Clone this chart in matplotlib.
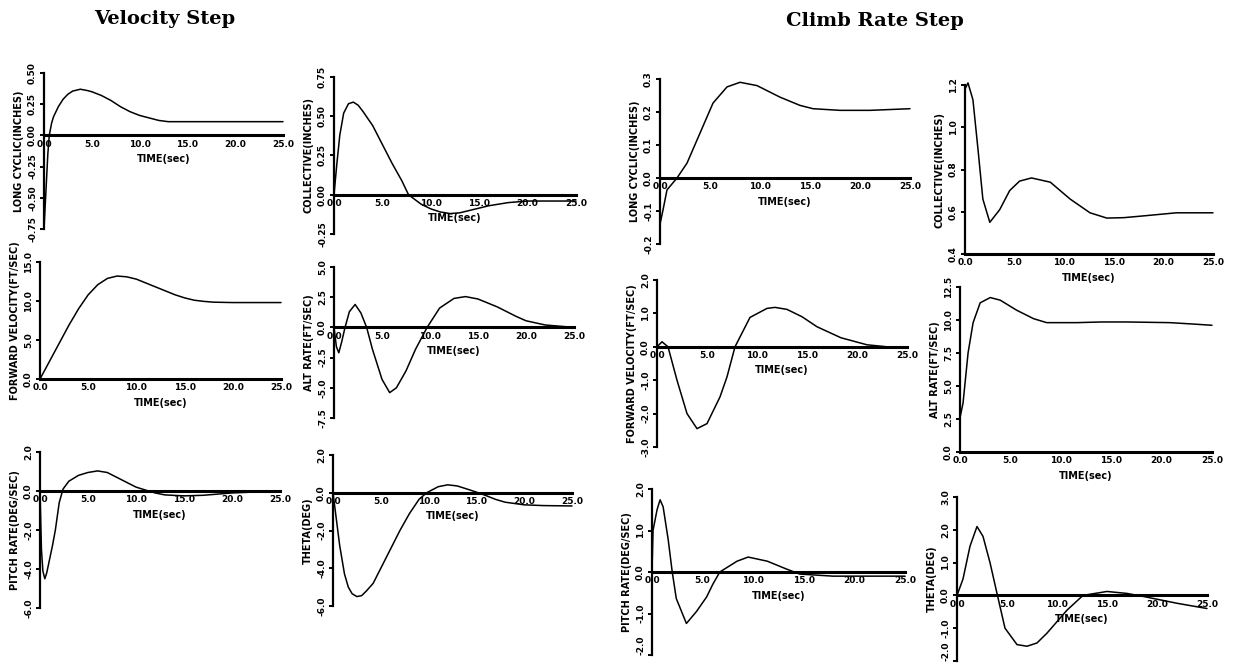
import matplotlib
matplotlib.use("Agg")
import matplotlib.pyplot as plt

# ---------------- data ----------------
titles = ["Velocity Step", "Climb Rate Step"]
time_ticks = [0, 5, 10, 15, 20, 25]
time_tick_labels = ["0.0", "5.0", "10.0", "15.0", "20.0", "25.0"]
x_label = "TIME(sec)"

# Velocity step
v_lcyc_t = [0, 0.2, 0.4, 0.55, 0.8, 1.0, 1.5, 2.0, 2.5, 3.0, 3.8, 4.5, 5, 6, 7, 8, 9, 10, 11, 12, 13, 15, 20, 25]
v_lcyc_y = [-0.75, -0.45, -0.15, 0.0, 0.10, 0.15, 0.23, 0.29, 0.33, 0.355, 0.37, 0.36, 0.35, 0.32, 0.28, 0.23,
            0.19, 0.16, 0.14, 0.12, 0.11, 0.11, 0.11, 0.11]

v_coll_t = [0, 0.3, 0.6, 1.0, 1.5, 2.0, 2.5, 3, 4, 5, 6, 7, 7.7, 9, 10, 11, 12, 13, 14, 15, 16, 18, 20, 22, 25]
v_coll_y = [0, 0.2, 0.38, 0.52, 0.58, 0.59, 0.57, 0.53, 0.44, 0.32, 0.20, 0.09, 0.0, -0.06, -0.09, -0.11, -0.12,
            -0.115, -0.10, -0.085, -0.07, -0.05, -0.04, -0.04, -0.04]

v_fvel_t = [0, 1, 2, 3, 4, 5, 6, 7, 8, 9, 10, 11, 12, 13, 14, 15, 16, 17, 18, 20, 22, 25]
v_fvel_y = [0, 2.3, 4.6, 6.9, 9.0, 10.8, 12.1, 12.9, 13.2, 13.1, 12.8, 12.3, 11.8, 11.3, 10.8, 10.4, 10.1, 9.95,
            9.85, 9.8, 9.8, 9.8]

v_alt_t = [0, 0.25, 0.5, 0.8, 1.15, 1.6, 2.2, 2.8, 3.4, 4.0, 5.0, 5.8, 6.5, 7.5, 8.5, 9.7, 11, 12.5, 13.7, 15, 17,
           19, 20, 22, 25]
v_alt_y = [0, -1.6, -2.1, -1.2, 0, 1.3, 1.9, 1.2, 0, -1.8, -4.3, -5.4, -5.0, -3.6, -1.8, 0, 1.6, 2.4, 2.55, 2.35,
           1.7, 0.9, 0.55, 0.2, 0.0]

v_prate_t = [0, 0.15, 0.3, 0.5, 0.7, 1.0, 1.3, 1.6, 2.0, 2.4, 3.0, 4.0, 5.0, 6.0, 7.0, 8.0, 9.0, 10, 11.3, 12, 13,
             15, 17, 20, 25]
v_prate_y = [0, -3.0, -4.1, -4.5, -4.2, -3.5, -2.8, -2.0, -0.6, 0.1, 0.5, 0.8, 0.95, 1.03, 0.95, 0.7, 0.45, 0.2,
             0, -0.1, -0.2, -0.25, -0.22, -0.1, 0]

v_theta_t = [0, 0.3, 0.7, 1.2, 1.6, 2.0, 2.5, 3.0, 3.5, 4.2, 5.0, 6.0, 7.0, 8.0, 9.0, 9.8, 11, 12, 13, 14, 15.2,
             16, 17, 18, 20, 22, 25]
v_theta_y = [0, -1.2, -2.8, -4.3, -5.0, -5.35, -5.5, -5.45, -5.2, -4.8, -4.0, -3.0, -2.0, -1.1, -0.35, 0, 0.32,
             0.42, 0.36, 0.2, 0, -0.15, -0.35, -0.5, -0.64, -0.68, -0.7]

# Climb rate step
c_lcyc_t = [0, 0.3, 0.7, 1.7, 2.7, 4.0, 5.3, 6.7, 8.0, 9.7, 12, 14, 15.3, 18, 21, 25]
c_lcyc_y = [-0.14, -0.097, -0.036, 0, 0.045, 0.136, 0.227, 0.276, 0.29, 0.28, 0.245, 0.22, 0.21, 0.205, 0.205, 0.21]

c_coll_t = [0, 0.3, 0.8, 1.3, 1.8, 2.5, 3.5, 4.5, 5.5, 6.7, 8.6, 10.6, 12.6, 14.3, 16, 17.9, 21.3, 25]
c_coll_y = [1.18, 1.21, 1.13, 0.9, 0.66, 0.55, 0.61, 0.70, 0.745, 0.76, 0.74, 0.66, 0.595, 0.57, 0.572, 0.58,
            0.595, 0.595]

c_fvel_t = [0, 0.5, 1.1, 2.0, 3.0, 4.0, 5.0, 6.3, 7.0, 7.8, 9.3, 11, 11.8, 13, 14.5, 16, 18.4, 21, 23, 25]
c_fvel_y = [0, 0.15, 0, -1.0, -2.0, -2.45, -2.3, -1.5, -0.9, 0, 0.88, 1.15, 1.18, 1.12, 0.9, 0.6, 0.27, 0.06, 0.0,
            0.0]

c_alt_t = [0, 0.3, 0.8, 1.3, 2.0, 3.0, 4.0, 5.6, 7.3, 8.6, 11.6, 14, 16.6, 20.8, 23, 25]
c_alt_y = [2.6, 3.7, 7.5, 9.8, 11.3, 11.7, 11.5, 10.75, 10.1, 9.8, 9.8, 9.85, 9.85, 9.8, 9.7, 9.6]

c_prate_t = [0, 0.1, 0.5, 0.8, 1.1, 1.6, 2.0, 2.4, 3.4, 4.4, 5.4, 6.0, 6.7, 8.4, 9.5, 11.4, 13.3, 14.6, 17.9, 25]
c_prate_y = [0, 1.0, 1.5, 1.74, 1.57, 0.78, 0, -0.64, -1.24, -0.95, -0.6, -0.3, 0, 0.26, 0.36, 0.26, 0.07, -0.05,
             -0.1, -0.1]

c_theta_t = [0, 0.6, 1.3, 2.0, 2.6, 3.3, 4.0, 4.8, 6.0, 7.0, 8.0, 9.0, 10, 11, 12.6, 15, 17, 18.6, 22, 25]
c_theta_y = [0, 0.5, 1.5, 2.1, 1.8, 1.0, 0.06, -1.0, -1.5, -1.55, -1.45, -1.15, -0.8, -0.45, 0, 0.12, 0.06, -0.03,
             -0.24, -0.4]

# y-axis labels, ticks and tick texts
y_labels = ["LONG CYCLIC(INCHES)", "COLLECTIVE(INCHES)", "FORWARD VELOCITY(FT/SEC)", "ALT RATE(FT/SEC)",
            "PITCH RATE(DEG/SEC)", "THETA(DEG)"]
yt_v_lcyc = [-0.75, -0.5, -0.25, 0, 0.25, 0.5]
yl_v_lcyc = ["-0.75", "-0.50", "-0.25", "0.00", "0.25", "0.50"]
yt_v_coll = [-0.25, 0, 0.25, 0.5, 0.75]
yl_v_coll = ["-0.25", "0.00", "0.25", "0.50", "0.75"]
yt_v_fvel = [0, 5, 10, 15]
yl_v_fvel = ["0.0", "5.0", "10.0", "15.0"]
yt_v_alt = [-7.5, -5, -2.5, 0, 2.5, 5]
yl_v_alt = ["-7.5", "-5.0", "-2.5", "0.0", "2.5", "5.0"]
yt_v_prate = [-6, -4, -2, 0, 2]
yl_v_prate = ["-6.0", "-4.0", "-2.0", "0.0", "2.0"]
yt_v_theta = [-6, -4, -2, 0, 2]
yl_v_theta = ["-6.0", "-4.0", "-2.0", "0.0", "2.0"]
yt_c_lcyc = [-0.2, -0.1, 0, 0.1, 0.2, 0.3]
yl_c_lcyc = ["-0.2", "-0.1", "0.0", "0.1", "0.2", "0.3"]
yt_c_coll = [0.4, 0.6, 0.8, 1.0, 1.2]
yl_c_coll = ["0.4", "0.6", "0.8", "1.0", "1.2"]
yt_c_fvel = [-3, -2, -1, 0, 1, 2]
yl_c_fvel = ["-3.0", "-2.0", "-1.0", "0.0", "1.0", "2.0"]
yt_c_alt = [0, 2.5, 5, 7.5, 10, 12.5]
yl_c_alt = ["0.0", "2.5", "5.0", "7.5", "10.0", "12.5"]
yt_c_prate = [-2, -1, 0, 1, 2]
yl_c_prate = ["-2.0", "-1.0", "0.0", "1.0", "2.0"]
yt_c_theta = [-2, -1, 0, 1, 2, 3]
yl_c_theta = ["-2.0", "-1.0", "0.0", "1.0", "2.0", "3.0"]

# ---------------- layout (pixel boxes: left, right, top, bottom) ----------------
W, H = 1238, 664
fig = plt.figure(figsize=(W / 100, H / 100), dpi=100)
fig.patch.set_facecolor("white")

panels = [
    # box, ylim, t, y, yticks, yticklabels, ylabel, axis at
    ((44, 283, 73, 229), (-0.75, 0.5), v_lcyc_t, v_lcyc_y, yt_v_lcyc, yl_v_lcyc, y_labels[0], 0.0),
    ((334, 576, 77, 234), (-0.25, 0.75), v_coll_t, v_coll_y, yt_v_coll, yl_v_coll, y_labels[1], 0.0),
    ((40, 281, 262, 379), (0, 15), v_fvel_t, v_fvel_y, yt_v_fvel, yl_v_fvel, y_labels[2], 0.0),
    ((334, 574, 267, 418), (-7.5, 5), v_alt_t, v_alt_y, yt_v_alt, yl_v_alt, y_labels[3], 0.0),
    ((40, 280, 452, 608), (-6, 2), v_prate_t, v_prate_y, yt_v_prate, yl_v_prate, y_labels[4], 0.0),
    ((333, 572, 455, 606), (-6, 2), v_theta_t, v_theta_y, yt_v_theta, yl_v_theta, y_labels[5], 0.0),
    ((660, 910, 79, 244), (-0.2, 0.3), c_lcyc_t, c_lcyc_y, yt_c_lcyc, yl_c_lcyc, y_labels[0], 0.0),
    ((965, 1213, 85, 254), (0.4, 1.2), c_coll_t, c_coll_y, yt_c_coll, yl_c_coll, y_labels[1], 0.4),
    ((657, 907, 280, 447), (-3, 2), c_fvel_t, c_fvel_y, yt_c_fvel, yl_c_fvel, y_labels[2], 0.0),
    ((960, 1212, 287, 452), (0, 12.5), c_alt_t, c_alt_y, yt_c_alt, yl_c_alt, y_labels[3], 0.0),
    ((652, 905, 489, 655), (-2, 2), c_prate_t, c_prate_y, yt_c_prate, yl_c_prate, y_labels[4], 0.0),
    ((957, 1207, 497, 661), (-2, 3), c_theta_t, c_theta_y, yt_c_theta, yl_c_theta, y_labels[5], 0.0),
]

tick_font = dict(fontsize=6.5, fontweight="bold", family="DejaVu Sans")

for (l, r, t, b), ylim, xs, ys, yt, yl, ylab, x0 in panels:
    ax = fig.add_axes([l / W, 1 - b / H, (r - l) / W, (b - t) / H])
    ax.set_facecolor("none")
    ax.plot(xs, ys, color="black", lw=1.1, solid_capstyle="round", clip_on=False)
    ax.set_xlim(0, 25)
    ax.set_ylim(*ylim)
    for s in ("top", "right"):
        ax.spines[s].set_visible(False)
    ax.spines["left"].set_linewidth(1.6)
    ax.spines["bottom"].set_linewidth(2.2)
    ax.spines["bottom"].set_position(("data", x0))
    ax.set_xticks(time_ticks)
    ax.set_xticklabels(time_tick_labels, **tick_font)
    ax.tick_params(axis="x", length=0, pad=3)
    ax.set_yticks(yt)
    labels = ax.set_yticklabels(yl, rotation=90, va="center", **tick_font)
    if b > 640:
        # keep the lowest label inside the page: let it extend upward from its tick
        labels[0].set_va("bottom")
    ax.tick_params(axis="y", length=3, width=1.4, pad=2)
    ax.set_ylabel(ylab, fontsize=7, fontweight="bold", labelpad=3)
    ax.annotate(x_label, xy=(12.5, x0), xycoords="data", xytext=(0, -17), textcoords="offset points",
                ha="center", va="center", fontsize=7, fontweight="bold")

fig.text(165 / W, 1 - 19 / H, titles[0], ha="center", va="center", fontsize=14, fontweight="bold",
         family="DejaVu Serif")
fig.text(875 / W, 1 - 21 / H, titles[1], ha="center", va="center", fontsize=14, fontweight="bold",
         family="DejaVu Serif")

fig.savefig("out.png", dpi=100, facecolor="white")
